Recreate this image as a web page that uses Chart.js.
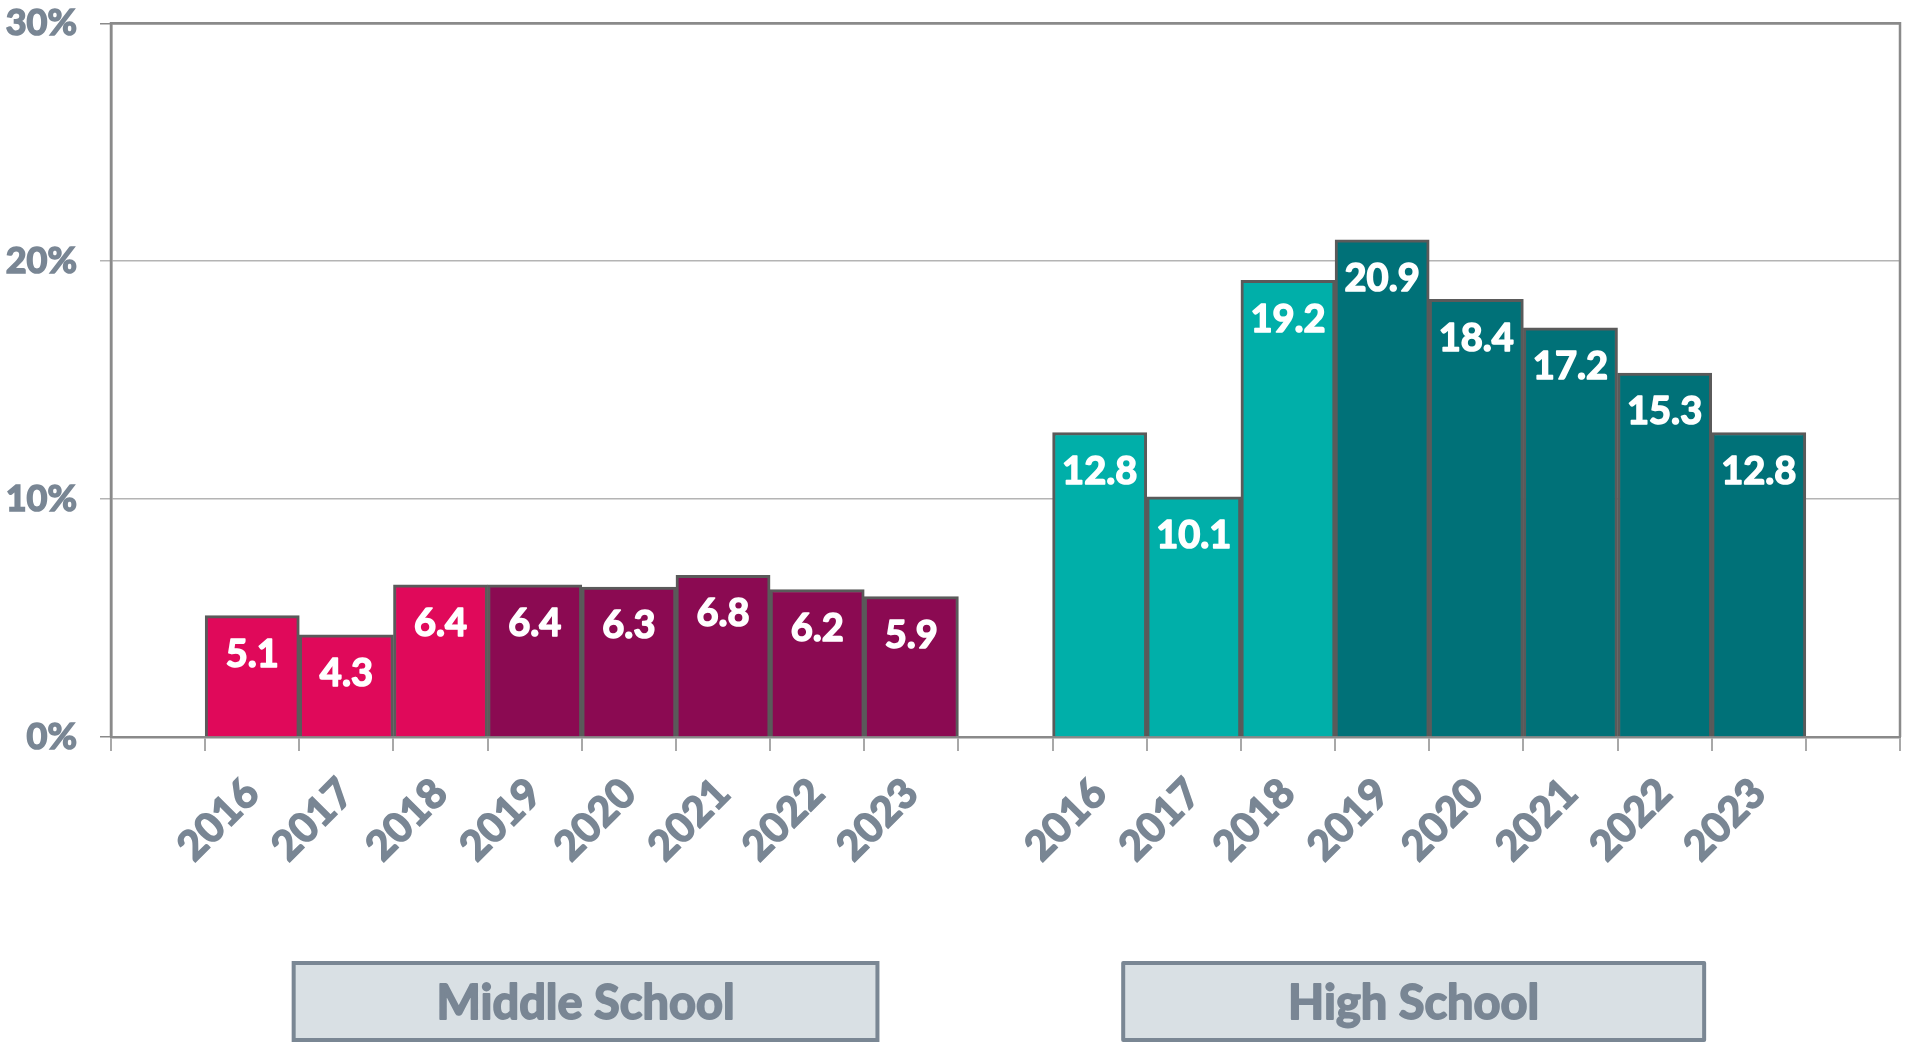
<!DOCTYPE html>
<html>
<head>
<meta charset="utf-8">
<script src="https://cdn.jsdelivr.net/npm/chart.js@4/dist/chart.umd.min.js"></script>
<style>
  html, body { margin: 0; padding: 0; background: #ffffff; }
  #wrap { width: 1906px; height: 1042px; position: relative; }
</style>
</head>
<body>
<div id="wrap"><canvas id="c" width="1906" height="1042"></canvas></div>
<script>
// ---- data ----
const msYears  = ['2016','2017','2018','2019','2020','2021','2022','2023'];
const msValues = [5.1, 4.3, 6.4, 6.4, 6.3, 6.8, 6.2, 5.9];
const hsYears  = ['2016','2017','2018','2019','2020','2021','2022','2023'];
const hsValues = [12.8, 10.1, 19.2, 20.9, 18.4, 17.2, 15.3, 12.8];
const groupNames = ['Middle School', 'High School'];
const yTicks = [0, 10, 20, 30];

// ---- build category table (empty slots between groups) ----
const labels = [''].concat(msYears, [''], hsYears, ['']);
const values = [null].concat(msValues, [null], hsValues, [null]);
const msStart = 1, hsStart = msYears.length + 2;

const PINK = '#E0095A', PLUM = '#8B0A52', TEAL = '#00AFA9', DTEAL = '#007178';
const colors = labels.map((l, i) => {
  if (i >= msStart && i < msStart + msYears.length) return (i - msStart) < 3 ? PINK : PLUM;
  if (i >= hsStart && i < hsStart + hsYears.length) return (i - hsStart) < 3 ? TEAL : DTEAL;
  return 'rgba(0,0,0,0)';
});

const SLATE = '#798694';
const FONT = 'Lato, "Open Sans", sans-serif';

const valueLabels = {
  id: 'valueLabels',
  afterDatasetsDraw(chart) {
    const ctx = chart.ctx;
    const meta = chart.getDatasetMeta(0);
    ctx.save();
    ctx.fillStyle = '#ffffff';
    ctx.strokeStyle = '#ffffff';
    ctx.lineWidth = 1.6;
    ctx.lineJoin = 'round';
    ctx.font = 'bold 38px ' + FONT;
    ctx.textAlign = 'center';
    ctx.textBaseline = 'middle';
    meta.data.forEach((bar, i) => {
      const v = values[i];
      if (v === null) return;
      const t = v.toFixed(1);
      ctx.fillText(t, bar.x, bar.y + 39);
      ctx.strokeText(t, bar.x, bar.y + 39);
    });
    ctx.restore();
  }
};

const frame = {
  id: 'frame',
  afterDraw(chart) {
    const ctx = chart.ctx, a = chart.chartArea;
    ctx.save();
    ctx.strokeStyle = '#8a8a8a';
    ctx.lineWidth = 2.5;
    ctx.beginPath();
    ctx.moveTo(a.left, a.bottom);
    ctx.lineTo(a.left, a.top);
    ctx.lineTo(a.right, a.top);
    ctx.lineTo(a.right, a.bottom);
    ctx.stroke();
    ctx.restore();
  }
};

const groupBoxes = {
  id: 'groupBoxes',
  afterDraw(chart) {
    const ctx = chart.ctx, xs = chart.scales.x;
    // group extents expressed in category units
    const spans = [[msStart + 0.94, msStart + 7.14], [hsStart + 0.75, hsStart + 6.92]];
    ctx.save();
    spans.forEach((s, k) => {
      const x1 = xs.getPixelForValue(s[0] - 0.5);
      const x2 = xs.getPixelForValue(s[1] - 0.5);
      const y1 = 963, y2 = 1040;
      ctx.fillStyle = '#D9E0E4';
      ctx.fillRect(x1, y1, x2 - x1, y2 - y1);
      ctx.strokeStyle = '#7A8794';
      ctx.lineWidth = 4;
      ctx.strokeRect(x1, y1, x2 - x1, y2 - y1);
      ctx.fillStyle = SLATE;
      ctx.strokeStyle = SLATE;
      ctx.lineWidth = 1.8;
      ctx.lineJoin = 'round';
      ctx.font = 'bold 47px ' + FONT;
      ctx.textAlign = 'center';
      ctx.textBaseline = 'alphabetic';
      ctx.fillText(groupNames[k], (x1 + x2) / 2, 1019);
      ctx.strokeText(groupNames[k], (x1 + x2) / 2, 1019);
    });
    ctx.restore();
  }
};

new Chart(document.getElementById('c'), {
  type: 'bar',
  data: {
    labels: labels,
    datasets: [{
      data: values,
      backgroundColor: colors,
      borderColor: '#5a5a5a',
      borderWidth: 3,
      borderSkipped: 'bottom',
      barPercentage: 1.0,
      categoryPercentage: 1.0
    }]
  },
  options: {
    responsive: false,
    animation: false,
    devicePixelRatio: 1,
    layout: { padding: { top: 0, right: 6, left: 0, bottom: 0 } },
    plugins: { legend: { display: false }, tooltip: { enabled: false } },
    scales: {
      x: {
        offset: true,
        grid: {
          offset: true,
          drawOnChartArea: false,
          drawTicks: true,
          tickLength: 14,
          color: '#a8a8a8',
          lineWidth: 2
        },
        border: { display: true, color: '#8a8a8a', width: 2.5 },
        ticks: {
          autoSkip: false,
          minRotation: 45,
          maxRotation: 45,
          padding: 18,
          color: SLATE,
          textStrokeColor: SLATE,
          textStrokeWidth: 1.6,
          font: { family: FONT, weight: 'bold', size: 41 }
        },
        afterFit(scale) { scale.height = 1042 - 737; }
      },
      y: {
        min: 0,
        max: 30,
        afterBuildTicks(scale) { scale.ticks = yTicks.map(v => ({ value: v })); },
        grid: {
          color: (c) => (c.tick && (c.tick.value === 0 || c.tick.value === 30)) ? '#8a8a8a' : '#b4b4b4',
          lineWidth: 1.5,
          tickLength: 11
        },
        border: { display: true, color: '#8a8a8a', width: 2.5 },
        ticks: {
          padding: 23,
          color: SLATE,
          textStrokeColor: SLATE,
          textStrokeWidth: 1.6,
          font: { family: FONT, weight: 'bold', size: 36, lineHeight: 0.02 },
          callback: (v) => v + '%'
        },
        afterFit(scale) { scale.width = 111; }
      }
    }
  },
  plugins: [valueLabels, frame, groupBoxes]
});
</script>
</body>
</html>
